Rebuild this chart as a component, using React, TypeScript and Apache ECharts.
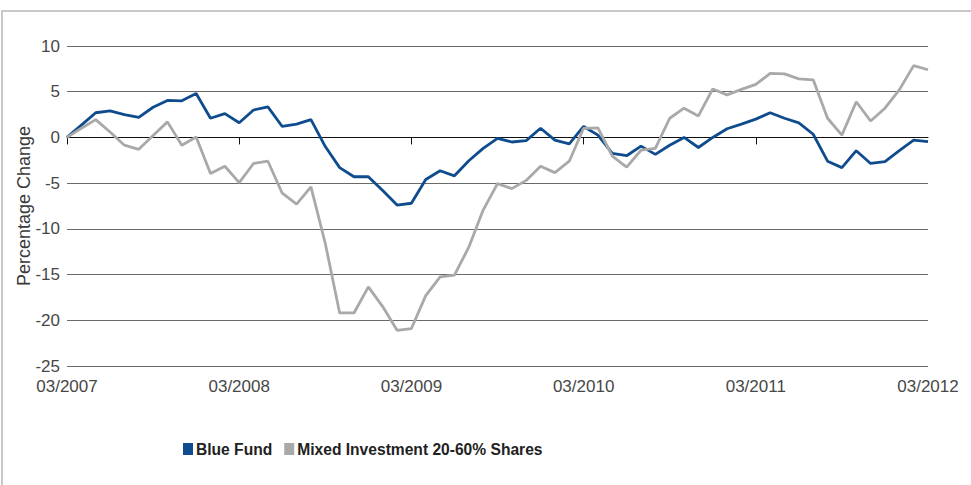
import React, { useEffect, useRef } from "react";
import * as echarts from "echarts";

const startYear = 2007;
const monthCount = 61;
const categories: string[] = [];
for (let i = 0; i < monthCount; i++) {
  const m = ((2 + i) % 12) + 1;
  const y = startYear + Math.floor((2 + i) / 12);
  categories.push(`${m < 10 ? "0" + m : m}/${y}`);
}

const blueFund = [
  0, 1.35, 2.7, 2.9, 2.5, 2.2, 3.3, 4.05, 4.0, 4.8, 2.1, 2.6, 1.6, 3.0, 3.35, 1.2, 1.45, 1.95,
  -1.0, -3.3, -4.3, -4.3, -5.8, -7.4, -7.2, -4.6, -3.65, -4.2, -2.55, -1.2, -0.1, -0.5, -0.35,
  1.0, -0.3, -0.7, 1.2, 0.25, -1.75, -2.0, -0.95, -1.85, -0.85, 0.0, -1.1, 0.0, 0.95, 1.45,
  2.0, 2.7, 2.1, 1.6, 0.35, -2.6, -3.3, -1.45, -2.85, -2.65, -1.45, -0.3, -0.45,
];

const mixedInvestment = [
  0, 1.0, 1.95, 0.6, -0.85, -1.3, 0.2, 1.7, -0.85, 0.05, -3.95, -3.15, -4.95, -2.85, -2.6,
  -6.1, -7.3, -5.4, -11.6, -19.2, -19.2, -16.35, -18.5, -21.1, -20.9, -17.3, -15.25, -15.05,
  -12.0, -7.95, -5.05, -5.6, -4.7, -3.15, -3.85, -2.6, 1.0, 1.05, -2.05, -3.25, -1.4, -1.2,
  2.1, 3.2, 2.35, 5.3, 4.65, 5.25, 5.8, 7.0, 6.95, 6.4, 6.3, 2.1, 0.25, 3.9, 1.8, 3.2, 5.2,
  7.85, 7.4,
];

const seriesNames = ["Blue Fund", "Mixed Investment 20-60% Shares"];
const yMin = -25;
const yMax = 10;
const yStep = 5;

export default function App() {
  const ref = useRef<HTMLDivElement>(null);
  useEffect(() => {
    if (!ref.current) return;
    const chart = echarts.init(ref.current, undefined, { renderer: "svg" });
    const font = "'Liberation Sans', Arial, Helvetica, sans-serif";
    chart.setOption({
      animation: false,
      backgroundColor: "#ffffff",
      textStyle: { fontFamily: font },
      graphic: [
        {
          type: "rect",
          shape: { x: 2, y: 11, width: 1200, height: 800 },
          style: { fill: "none", stroke: "#c8c8c8", lineWidth: 2 },
          silent: true,
        },
      ],
      grid: { left: 67, right: 43, top: 46, bottom: 119 },
      legend: {
        left: 178,
        top: 436,
        itemWidth: 10,
        itemHeight: 12,
        itemGap: 12,
        icon: "rect",
        textStyle: { fontFamily: font, fontSize: 15.6, fontWeight: "bold", color: "#222", padding: [0, 0, 0, -2] },
        data: seriesNames,
      },
      xAxis: {
        type: "category",
        data: categories,
        boundaryGap: false,
        axisLine: { show: true, lineStyle: { color: "#111", width: 1 } },
        axisTick: {
          show: true,
          length: 7,
          interval: (index: number) => index % 12 === 0 && index < monthCount - 1,
          lineStyle: { color: "#111" },
        },
        axisLabel: {
          interval: (index: number) => index % 12 === 0,
          margin: 12,
          fontSize: 17,
          color: "#474747",
          fontFamily: font,
        },
        splitLine: { show: false },
      },
      yAxis: {
        type: "value",
        min: yMin,
        max: yMax,
        interval: yStep,
        name: "Percentage Change",
        nameLocation: "middle",
        nameGap: 34,
        nameMoveOverlap: false,
        nameTextStyle: { fontSize: 18, color: "#3a3a3a", fontFamily: font },
        axisLine: { show: false },
        axisTick: { show: false },
        axisLabel: { fontSize: 17, color: "#474747", margin: 7, fontFamily: font },
        splitLine: { show: true, lineStyle: { color: "#6a6a6a", width: 1 } },
      },
      series: [
        {
          name: seriesNames[0],
          type: "line",
          data: blueFund,
          symbol: "none",
          lineStyle: { color: "#0f4c8e", width: 2.8 },
          itemStyle: { color: "#0f4c8e" },
        },
        {
          name: seriesNames[1],
          type: "line",
          data: mixedInvestment,
          symbol: "none",
          lineStyle: { color: "#a9a9a9", width: 2.8 },
          itemStyle: { color: "#a9a9a9" },
        },
      ],
    });
    return () => chart.dispose();
  }, []);
  return (
    <div
      ref={ref}
      style={{ position: "absolute", left: 0, top: 0, width: 971, height: 485 }}
    />
  );
}
